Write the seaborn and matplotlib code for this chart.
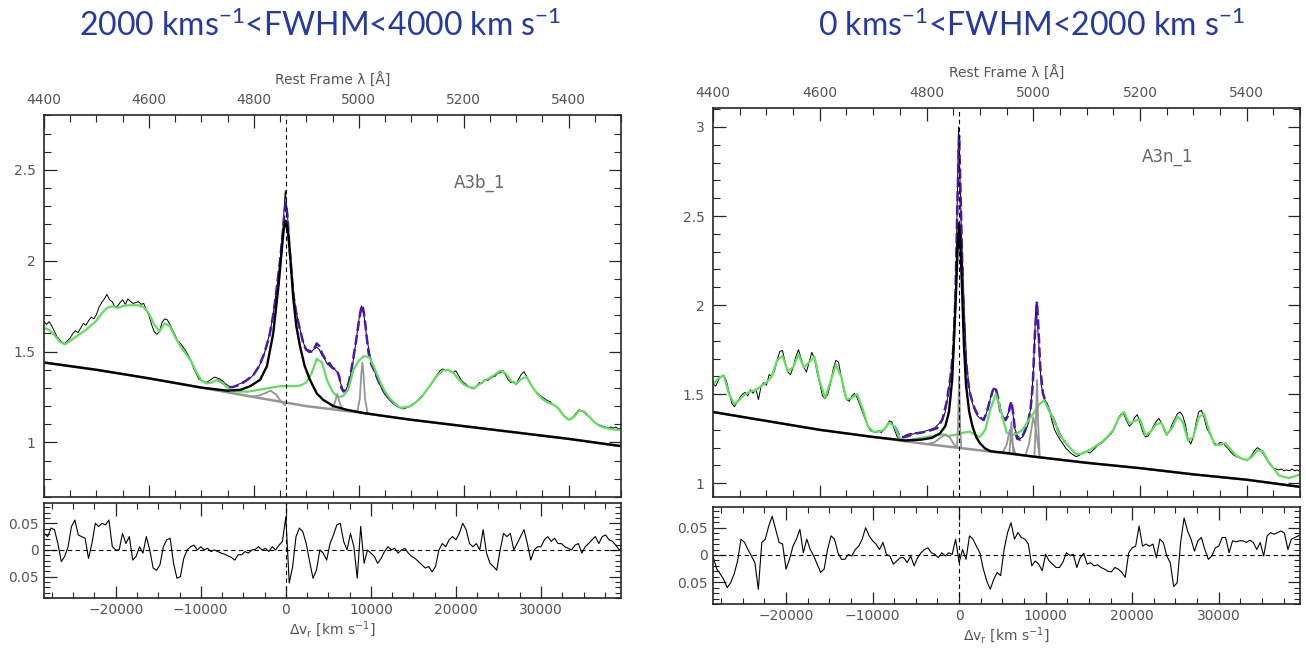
import numpy as np
import matplotlib
matplotlib.use("Agg")
import matplotlib.pyplot as plt
from matplotlib.ticker import MultipleLocator
import seaborn as sns

# ---- constantes ----
C_KMS = 299792.458
HB_REST = 4861.0
WAVE_MIN, WAVE_MAX = 4400, 5500
VEL_MIN, VEL_MAX = -28400, 39600   # grade dos residuos

GREEN = "#5fe05a"
PURPLE = "#4b14b4"
GRAY = "#959595"
LABEL = "#555555"
TITLE_BLUE = "#2439a6"

# ================== painel esquerdo (A3b_1) ==================
# espectro observado, passo de 5 A entre 4400 e 5500
obs_l = [
    1.665, 1.650, 1.665, 1.640, 1.610, 1.580, 1.565, 1.550, 1.545, 1.560,
    1.575, 1.600, 1.615, 1.605, 1.630, 1.655, 1.645, 1.670, 1.690, 1.680,
    1.705, 1.745, 1.770, 1.790, 1.815, 1.785, 1.775, 1.745, 1.750, 1.770,
    1.785, 1.760, 1.790, 1.775, 1.765, 1.770, 1.775, 1.760, 1.765, 1.730,
    1.700, 1.650, 1.610, 1.595, 1.610, 1.660, 1.680, 1.675, 1.650, 1.620,
    1.590, 1.560, 1.545, 1.525, 1.505, 1.480, 1.450, 1.410, 1.380, 1.350,
    1.340, 1.335, 1.330, 1.340, 1.350, 1.360, 1.355, 1.350, 1.340, 1.325,
    1.315, 1.305, 1.305, 1.310, 1.320, 1.325, 1.335, 1.340, 1.350, 1.360,
    1.375, 1.395, 1.420, 1.450, 1.490, 1.540, 1.600, 1.670, 1.770, 1.880,
    2.000, 2.160, 2.385, 2.220, 2.000, 1.840, 1.730, 1.660, 1.600, 1.545,
    1.510, 1.495, 1.500, 1.515, 1.525, 1.510, 1.480, 1.460, 1.430, 1.440,
    1.415, 1.400, 1.385, 1.330, 1.290, 1.285, 1.320, 1.380, 1.460, 1.560,
    1.670, 1.750, 1.700, 1.580, 1.500, 1.440, 1.395, 1.350, 1.320, 1.290,
    1.265, 1.245, 1.230, 1.215, 1.205, 1.195, 1.190, 1.185, 1.190, 1.195,
    1.205, 1.215, 1.225, 1.240, 1.255, 1.270, 1.290, 1.310, 1.330, 1.355,
    1.375, 1.395, 1.405, 1.395, 1.400, 1.390, 1.385, 1.395, 1.370, 1.345,
    1.330, 1.320, 1.305, 1.300, 1.295, 1.310, 1.330, 1.325, 1.345, 1.340,
    1.350, 1.360, 1.365, 1.380, 1.385, 1.395, 1.370, 1.345, 1.330, 1.335,
    1.320, 1.350, 1.375, 1.390, 1.365, 1.335, 1.310, 1.290, 1.275, 1.260,
    1.250, 1.240, 1.230, 1.225, 1.210, 1.200, 1.190, 1.170, 1.150, 1.135,
    1.125, 1.130, 1.145, 1.165, 1.180, 1.175, 1.165, 1.150, 1.140, 1.125,
    1.110, 1.100, 1.095, 1.090, 1.085, 1.080, 1.085, 1.080, 1.085, 1.075,
    1.080,
]
# FeII + continuo (verde), passo de 10 A
fe_l = [
    1.63, 1.62, 1.59, 1.555, 1.54, 1.56, 1.58, 1.60, 1.62, 1.645,
    1.67, 1.71, 1.74, 1.75, 1.74, 1.75, 1.755, 1.755, 1.755, 1.745,
    1.71, 1.65, 1.61, 1.655, 1.64, 1.58, 1.53, 1.49, 1.45, 1.39,
    1.34, 1.325, 1.33, 1.345, 1.33, 1.30, 1.285, 1.28, 1.28, 1.28,
    1.285, 1.29, 1.295, 1.30, 1.305, 1.31, 1.31, 1.31, 1.31, 1.315,
    1.33, 1.38, 1.46, 1.44, 1.34, 1.28, 1.25, 1.255, 1.29, 1.40,
    1.45, 1.475, 1.47, 1.41, 1.34, 1.28, 1.24, 1.21, 1.19, 1.195,
    1.20, 1.225, 1.25, 1.29, 1.33, 1.37, 1.395, 1.40, 1.385, 1.35,
    1.32, 1.305, 1.30, 1.32, 1.34, 1.355, 1.375, 1.395, 1.38, 1.34,
    1.32, 1.35, 1.36, 1.31, 1.27, 1.24, 1.22, 1.21, 1.19, 1.15,
    1.125, 1.14, 1.175, 1.17, 1.14, 1.11, 1.09, 1.08, 1.075, 1.07,
    1.07,
]
# ajuste total (roxo tracejado)
tot_l_w = [4730, 4740, 4750, 4760, 4770, 4780, 4790, 4800, 4810, 4820, 4830,
           4838, 4845, 4850, 4855, 4858, 4861, 4864, 4868, 4872, 4876,
           4881, 4888, 4895, 4900, 4910, 4915, 4920, 4925, 4930, 4940,
           4950, 4958, 4963, 4967, 4971, 4976, 4981, 4986, 4990, 4995,
           5000, 5004, 5007, 5010, 5013, 5016, 5019, 5024, 5029, 5036,
           5042, 5050, 5060, 5070, 5080]
tot_l_f = [1.345, 1.33, 1.305, 1.305, 1.315, 1.33, 1.35, 1.375, 1.42, 1.49, 1.59,
           1.72, 1.88, 2.00, 2.15, 2.25, 2.32, 2.25, 2.07, 1.93, 1.80,
           1.71, 1.62, 1.54, 1.51, 1.50, 1.515, 1.545, 1.53, 1.49, 1.44,
           1.41, 1.40, 1.36, 1.30, 1.28, 1.29, 1.33, 1.40, 1.47, 1.56,
           1.66, 1.73, 1.756, 1.71, 1.64, 1.56, 1.49, 1.43, 1.40, 1.35,
           1.31, 1.27, 1.235, 1.21, 1.19]
# Hbeta largo + continuo (preto grosso)
hb_l_w = [4400, 4500, 4600, 4700, 4750, 4775, 4793, 4812, 4825, 4837, 4847,
          4853, 4857, 4861, 4865, 4869, 4875, 4881, 4888, 4897, 4907, 4920,
          4932, 4952, 4977, 5010, 5050, 5100, 5200, 5300, 5400, 5500]
hb_l_f = [1.44, 1.40, 1.353, 1.302, 1.285, 1.29, 1.31, 1.345, 1.42, 1.60, 1.86,
          2.05, 2.17, 2.22, 2.16, 2.04, 1.80, 1.64, 1.53, 1.42, 1.345, 1.27,
          1.235, 1.20, 1.18, 1.162, 1.145, 1.125, 1.09, 1.055, 1.02, 0.98]
# continuo (cinza por baixo)
cont_l_w = [4400, 4500, 4600, 4700, 4800, 4900, 5000, 5100, 5200, 5300, 5400, 5500]
cont_l_f = [1.44, 1.40, 1.353, 1.302, 1.25, 1.20, 1.165, 1.125, 1.09, 1.055, 1.02, 0.98]
# componentes estreitas (cinza)
bump_l_w = [4795, 4810, 4822, 4832, 4842, 4852, 4860]
bump_l_f = [1.252, 1.258, 1.272, 1.285, 1.265, 1.225, 1.205]
o3a_l_w = [4948, 4954, 4959, 4964, 4970]
o3a_l_f = [1.183, 1.215, 1.267, 1.215, 1.176]
o3b_l_w = [4997, 5002, 5005, 5007, 5009, 5012, 5017]
o3b_l_f = [1.166, 1.24, 1.38, 1.44, 1.38, 1.24, 1.159]
# residuos, passo de 400 km/s
res_l = [
    0.031, 0.025, 0.041, 0.038, 0.012, -0.022, -0.012, 0.006, 0.044, 0.056,
    0.028, 0.025, 0.022, -0.016, 0.012, 0.050, 0.044, 0.050, 0.047, 0.056,
    0.006, 0.000, 0.000, 0.031, 0.012, 0.025, -0.019, -0.012, 0.006, -0.006,
    0.025, 0.000, -0.034, -0.038, -0.028, 0.006, 0.019, 0.022, -0.025, -0.053,
    -0.050, -0.016, 0.000, 0.006, 0.009, 0.000, 0.006, 0.000, 0.003, -0.003,
    0.000, -0.003, -0.006, -0.008, -0.011, -0.014, -0.019, -0.009, -0.009, -0.003,
    -0.006, 0.000, 0.001, 0.006, 0.000, 0.003, -0.003, 0.006, 0.000, 0.009,
    0.016, 0.062, -0.062, -0.031, 0.025, 0.041, 0.034, 0.012, -0.022, -0.053,
    -0.038, 0.000, -0.006, -0.019, 0.012, 0.028, 0.047, 0.050,
    0.016, 0.000, 0.031, 0.006, -0.053, 0.044, -0.025, 0.000, -0.006, -0.012,
    -0.025, -0.016, -0.003, 0.006, 0.000, 0.003, -0.006, 0.000, 0.003, -0.006,
    -0.012, -0.016, -0.022, -0.028, -0.034, -0.031, -0.041, -0.031, 0.000, 0.012,
    0.006, 0.019, 0.025, 0.019, 0.031, 0.050, 0.038, 0.012, 0.006, 0.012,
    0.000, 0.038, -0.006, -0.025, -0.031, -0.038, 0.000, 0.031, 0.025, 0.031,
    0.000, 0.012, 0.025, 0.038, 0.012, -0.019, 0.000, 0.006, 0.006, 0.019,
    0.025, 0.016, 0.022, 0.012, 0.012, 0.006, 0.003, 0.000, 0.009, 0.012,
    -0.006, 0.006, 0.012, 0.019, 0.025, 0.012, 0.025, 0.028, 0.019, 0.016,
    0.009, 0.000, 0.006,
]

# ================== painel direito (A3n_1) ==================
obs_r = [
    1.560, 1.545, 1.580, 1.600, 1.605, 1.575, 1.510, 1.450, 1.430, 1.455,
    1.480, 1.500, 1.510, 1.490, 1.525, 1.505, 1.530, 1.470, 1.545, 1.565,
    1.550, 1.610, 1.600, 1.630, 1.690, 1.740, 1.745, 1.680, 1.625, 1.610,
    1.650, 1.710, 1.750, 1.700, 1.650, 1.625, 1.680, 1.735, 1.700, 1.620,
    1.560, 1.490, 1.475, 1.500, 1.560, 1.640, 1.690, 1.680, 1.600, 1.520,
    1.470, 1.460, 1.490, 1.505, 1.480, 1.440, 1.400, 1.360, 1.320, 1.295,
    1.290, 1.285, 1.295, 1.285, 1.300, 1.320, 1.350, 1.345, 1.300, 1.260,
    1.250, 1.250, 1.270, 1.275, 1.280, 1.275, 1.285, 1.280, 1.285, 1.290,
    1.295, 1.300, 1.305, 1.310, 1.325, 1.340, 1.360, 1.400, 1.490, 1.600,
    1.750, 2.150, 3.000, 2.450, 2.030, 1.680, 1.530, 1.460, 1.410, 1.380,
    1.365, 1.360, 1.375, 1.420, 1.480, 1.530, 1.530, 1.460, 1.400, 1.365,
    1.370, 1.410, 1.440, 1.310, 1.270, 1.250, 1.260, 1.290, 1.330, 1.420,
    1.620, 2.000, 1.800, 1.550, 1.480, 1.450, 1.410, 1.350, 1.300, 1.270,
    1.245, 1.225, 1.200, 1.185, 1.170, 1.160, 1.150, 1.155, 1.165, 1.175,
    1.180, 1.170, 1.180, 1.195, 1.210, 1.220, 1.230, 1.245, 1.260, 1.275,
    1.295, 1.330, 1.370, 1.390, 1.385, 1.350, 1.320, 1.335, 1.370, 1.385,
    1.340, 1.290, 1.260, 1.265, 1.290, 1.320, 1.345, 1.365, 1.340, 1.300,
    1.270, 1.290, 1.330, 1.360, 1.390, 1.400, 1.380, 1.330, 1.250, 1.220,
    1.260, 1.340, 1.400, 1.410, 1.370, 1.310, 1.280, 1.250, 1.225, 1.215,
    1.230, 1.225, 1.210, 1.195, 1.175, 1.160, 1.150, 1.145, 1.140, 1.135,
    1.130, 1.140, 1.160, 1.185, 1.200, 1.190, 1.170, 1.145, 1.120, 1.100,
    1.085, 1.080, 1.075, 1.080, 1.070, 1.075, 1.070, 1.080, 1.070, 1.075,
    1.065,
]
fe_r = [
    1.555, 1.590, 1.605, 1.500, 1.445, 1.470, 1.500, 1.515, 1.523, 1.545,
    1.565, 1.600, 1.690, 1.715, 1.630, 1.650, 1.725, 1.650, 1.680, 1.710,
    1.570, 1.480, 1.570, 1.665, 1.600, 1.470, 1.480, 1.500, 1.420, 1.320,
    1.290, 1.290, 1.300, 1.340, 1.320, 1.250, 1.243, 1.245, 1.250, 1.255,
    1.260, 1.265, 1.270, 1.275, 1.265, 1.270, 1.275, 1.285, 1.290, 1.275,
    1.260, 1.300, 1.420, 1.500, 1.400, 1.285, 1.270, 1.280, 1.300, 1.350,
    1.390, 1.440, 1.465, 1.410, 1.345, 1.270, 1.230, 1.195, 1.165, 1.165,
    1.178, 1.195, 1.215, 1.235, 1.265, 1.300, 1.365, 1.400, 1.335, 1.350,
    1.360, 1.270, 1.290, 1.330, 1.340, 1.275, 1.310, 1.375, 1.345, 1.240,
    1.260, 1.370, 1.390, 1.290, 1.215, 1.215, 1.225, 1.190, 1.155, 1.140,
    1.130, 1.150, 1.185, 1.180, 1.125, 1.085, 1.045, 1.035, 1.030, 1.040,
    1.050,
]
tot_r_w = [4740, 4750, 4760, 4770, 4780, 4790, 4800, 4810, 4820, 4830,
           4838, 4845, 4850, 4854, 4858, 4861, 4864, 4868, 4872, 4876,
           4880, 4885, 4890, 4895, 4900, 4907, 4913, 4919, 4924, 4929,
           4934, 4938, 4943, 4948, 4953, 4956, 4959, 4962, 4966, 4970,
           4975, 4980, 4985, 4990, 4995, 4999, 5003, 5007, 5010, 5013,
           5018, 5023, 5030, 5040, 5050, 5060]
tot_r_f = [1.32, 1.26, 1.26, 1.27, 1.28, 1.285, 1.29, 1.30, 1.31, 1.36,
           1.46, 1.60, 1.75, 2.03, 2.59, 2.95, 2.59, 2.10, 1.75, 1.62,
           1.52, 1.467, 1.42, 1.39, 1.37, 1.355, 1.40, 1.467, 1.52, 1.542,
           1.48, 1.41, 1.37, 1.355, 1.38, 1.43, 1.46, 1.40, 1.29, 1.25,
           1.245, 1.265, 1.30, 1.34, 1.42, 1.55, 1.84, 2.02, 1.85, 1.654,
           1.505, 1.46, 1.41, 1.345, 1.27, 1.23]
hb_r_w = [4400, 4500, 4600, 4700, 4760, 4790, 4810, 4825, 4835, 4842, 4848,
          4852, 4855, 4858, 4861, 4864, 4867, 4870, 4874, 4880, 4886, 4893,
          4900, 4910, 4920, 4935, 4950, 4970, 5000, 5100, 5200, 5300, 5400, 5500]
hb_r_f = [1.40, 1.35, 1.30, 1.26, 1.24, 1.245, 1.255, 1.28, 1.32, 1.40, 1.58,
          1.84, 2.05, 2.30, 2.46, 2.30, 2.05, 1.78, 1.55, 1.40, 1.32, 1.26,
          1.225, 1.195, 1.18, 1.175, 1.17, 1.162, 1.15, 1.115, 1.085, 1.05, 1.02, 0.98]
cont_r_w = [4400, 4500, 4600, 4700, 4800, 4900, 5000, 5100, 5200, 5300, 5400, 5500]
cont_r_f = [1.40, 1.35, 1.30, 1.26, 1.22, 1.185, 1.15, 1.115, 1.085, 1.05, 1.02, 0.98]
bump_r_w = [4800, 4815, 4828, 4836, 4844, 4852, 4858]
bump_r_f = [1.22, 1.23, 1.26, 1.275, 1.255, 1.215, 1.20]
hbn_r_w = [4857, 4859, 4861, 4863, 4865]
hbn_r_f = [1.199, 1.32, 1.60, 1.32, 1.197]
o3a_r_w = [4942, 4950, 4956, 4961, 4967]
o3a_r_f = [1.17, 1.215, 1.30, 1.22, 1.162]
o3an_r_w = [4955, 4957, 4959, 4961, 4963]
o3an_r_f = [1.166, 1.24, 1.345, 1.24, 1.163]
o3b_r_w = [4985, 4992, 5000, 5005, 5012]
o3b_r_f = [1.155, 1.22, 1.37, 1.30, 1.146]
o3bn_r_w = [5002, 5005, 5007, 5009, 5012]
o3bn_r_f = [1.149, 1.35, 1.58, 1.35, 1.146]
res_r = [
    -0.005, -0.026, -0.035, -0.045, -0.060, -0.051, -0.035, -0.011, 0.029, 0.023,
    0.010, -0.002, -0.014, -0.063, 0.023, 0.029, 0.053, 0.071, 0.047, 0.023,
    0.020, -0.026, -0.008, 0.016, 0.029, 0.047, 0.004, 0.029, 0.010, -0.002,
    -0.017, -0.032, -0.026, 0.010, 0.035, 0.029, 0.004, -0.008, -0.008, 0.001,
    -0.002, 0.010, 0.016, 0.029, 0.050, 0.035, 0.026, 0.020, 0.010, 0.023,
    0.001, -0.002, -0.017, -0.011, -0.005, -0.005, -0.014, -0.002, -0.020, -0.005,
    0.004, 0.010, 0.013, 0.004, 0.001, -0.005, 0.004, -0.002, 0.004, 0.001,
    0.029, -0.014, 0.010, -0.008, 0.035, 0.029, 0.016, 0.004, -0.026, -0.048,
    -0.063, -0.045, -0.032, -0.038, 0.010, 0.041,
    0.059, 0.029, 0.041, 0.032, 0.029, 0.020, -0.020, -0.011, -0.017, -0.029,
    0.001, -0.011, -0.017, -0.023, -0.023, -0.013, 0.004, -0.001, 0.001, -0.023,
    -0.005, 0.003, -0.017, -0.014, -0.020, -0.018, -0.023, -0.026, -0.030, -0.031,
    -0.023, -0.026, -0.032, -0.041, 0.004, 0.013, 0.016, 0.053, 0.016, 0.020,
    0.016, 0.020, -0.005, 0.029, 0.023, -0.002, -0.014, -0.058, -0.051, 0.023,
    0.068, 0.044, 0.029, 0.007, 0.026, 0.032, 0.010, -0.008, -0.002, 0.013,
    0.016, 0.032, 0.032, 0.004, 0.026, 0.024, 0.026, 0.026, 0.023, 0.027,
    0.023, 0.010, 0.023, -0.002, 0.035, 0.041, 0.038, 0.041, 0.044, 0.040,
    0.010, 0.029, 0.032, 0.035, 0.038,
]


def vel(wave):
    return C_KMS * (np.asarray(wave, dtype=float) / HB_REST - 1.0)


def line(ax, x, y, **kw):
    sns.lineplot(x=np.asarray(x, dtype=float), y=np.asarray(y, dtype=float),
                 ax=ax, estimator=None, **kw)


def spectrum(ax, obs, fe, tot_w, tot_f, hb_w, hb_f, cont_w, cont_f, comps,
             ylim, name, name_xy):
    line(ax, np.linspace(WAVE_MIN, WAVE_MAX, len(obs)), obs, color="black", lw=0.7)
    line(ax, tot_w, tot_f, color=PURPLE, lw=1.8, linestyle=(0, (4, 1.6)))
    line(ax, np.linspace(WAVE_MIN, WAVE_MAX, len(fe)), fe, color=GREEN, lw=1.6)
    line(ax, cont_w, cont_f, color=GRAY, lw=1.8)
    for cw, cf in comps:
        line(ax, cw, cf, color=GRAY, lw=1.3)
    line(ax, hb_w, hb_f, color="black", lw=1.7)
    ax.axvline(HB_REST, color="black", lw=0.8, ls=(0, (4, 3)))

    ax.set_xlim(WAVE_MIN, WAVE_MAX)
    ax.set_ylim(*ylim)
    ax.xaxis.set_major_locator(MultipleLocator(200))
    ax.xaxis.set_minor_locator(MultipleLocator(50))
    ax.yaxis.set_major_locator(MultipleLocator(0.5))
    ax.yaxis.set_minor_locator(MultipleLocator(0.1))
    ax.yaxis.set_major_formatter(matplotlib.ticker.FormatStrFormatter("%g"))
    ax.tick_params(which="both", direction="in", top=True, bottom=True,
                   left=True, right=True, labeltop=True, labelbottom=False,
                   labelcolor=LABEL, labelsize=10)
    ax.tick_params(which="major", length=9, width=0.9, pad=6)
    ax.tick_params(which="minor", length=5, width=0.8)
    ax.xaxis.set_label_position("top")
    ax.set_xlabel("Rest Frame λ [Å]", color=LABEL, fontsize=10, labelpad=6)
    ax.set_ylabel("")
    ax.text(name_xy[0], name_xy[1], name, color="#666666", fontsize=12,
            ha="center", va="center")


def residual(ax, res):
    v = np.linspace(VEL_MIN, VEL_MAX, len(res))
    line(ax, v, res, color="black", lw=0.8)
    ax.axhline(0, color="black", lw=0.8, ls=(0, (4, 3)))
    ax.axvline(0, color="black", lw=0.8, ls=(0, (4, 3)))
    ax.set_xlim(vel(WAVE_MIN), vel(WAVE_MAX))
    ax.set_ylim(-0.09, 0.088)
    ax.xaxis.set_major_locator(MultipleLocator(10000))
    ax.xaxis.set_minor_locator(MultipleLocator(2500))
    ax.set_yticks([-0.05, 0, 0.05])
    ax.set_yticklabels(["0.05", "0", "0.05"])
    ax.yaxis.set_minor_locator(MultipleLocator(0.01))
    ax.tick_params(which="both", direction="in", top=True, bottom=True,
                   left=True, right=True, labelcolor=LABEL, labelsize=10)
    ax.tick_params(which="major", length=9, width=0.9)
    ax.tick_params(which="minor", length=4, width=0.8)
    ax.set_xlabel(r"$\Delta$v$_r$ [km s$^{-1}$]", color=LABEL, fontsize=10,
                  labelpad=2)
    ax.set_ylabel("")


sns.set_style("ticks")
plt.rcParams["font.family"] = ["DejaVu Sans"]
plt.rcParams["axes.linewidth"] = 1.2
plt.rcParams["mathtext.fontset"] = "custom"
plt.rcParams["mathtext.rm"] = "Lato"
plt.rcParams["mathtext.it"] = "Lato:italic"
plt.rcParams["mathtext.default"] = "regular"

fig = plt.figure(figsize=(13.06, 6.48), dpi=100)
ax_l = fig.add_axes([0.0337, 0.233, 0.4418, 0.589])
ax_lr = fig.add_axes([0.0337, 0.0772, 0.4418, 0.1466])
ax_r = fig.add_axes([0.546, 0.233, 0.4495, 0.600])
ax_rr = fig.add_axes([0.546, 0.0679, 0.4495, 0.1497])

spectrum(ax_l, obs_l, fe_l, tot_l_w, tot_l_f, hb_l_w, hb_l_f, cont_l_w, cont_l_f,
         [(bump_l_w, bump_l_f), (o3a_l_w, o3a_l_f), (o3b_l_w, o3b_l_f)],
         (0.70, 2.80), "A3b_1", (5231, 2.43))
residual(ax_lr, res_l)

spectrum(ax_r, obs_r, fe_r, tot_r_w, tot_r_f, hb_r_w, hb_r_f, cont_r_w, cont_r_f,
         [(bump_r_w, bump_r_f), (hbn_r_w, hbn_r_f), (o3a_r_w, o3a_r_f),
          (o3an_r_w, o3an_r_f), (o3b_r_w, o3b_r_f), (o3bn_r_w, o3bn_r_f)],
         (0.923, 3.105), "A3n_1", (5251, 2.83))
residual(ax_rr, res_r)

title_font = dict(color=TITLE_BLUE, fontsize=23, ha="center", va="center",
                  family=["Lato", "DejaVu Sans"])
fig.text(0.245, 0.960, "2000 kms$^{-1}$<FWHM<4000 km s$^{-1}$", **title_font)
fig.text(0.790, 0.960, "0 kms$^{-1}$<FWHM<2000 km s$^{-1}$", **title_font)

fig.savefig("out.png", dpi=100, facecolor="white")
